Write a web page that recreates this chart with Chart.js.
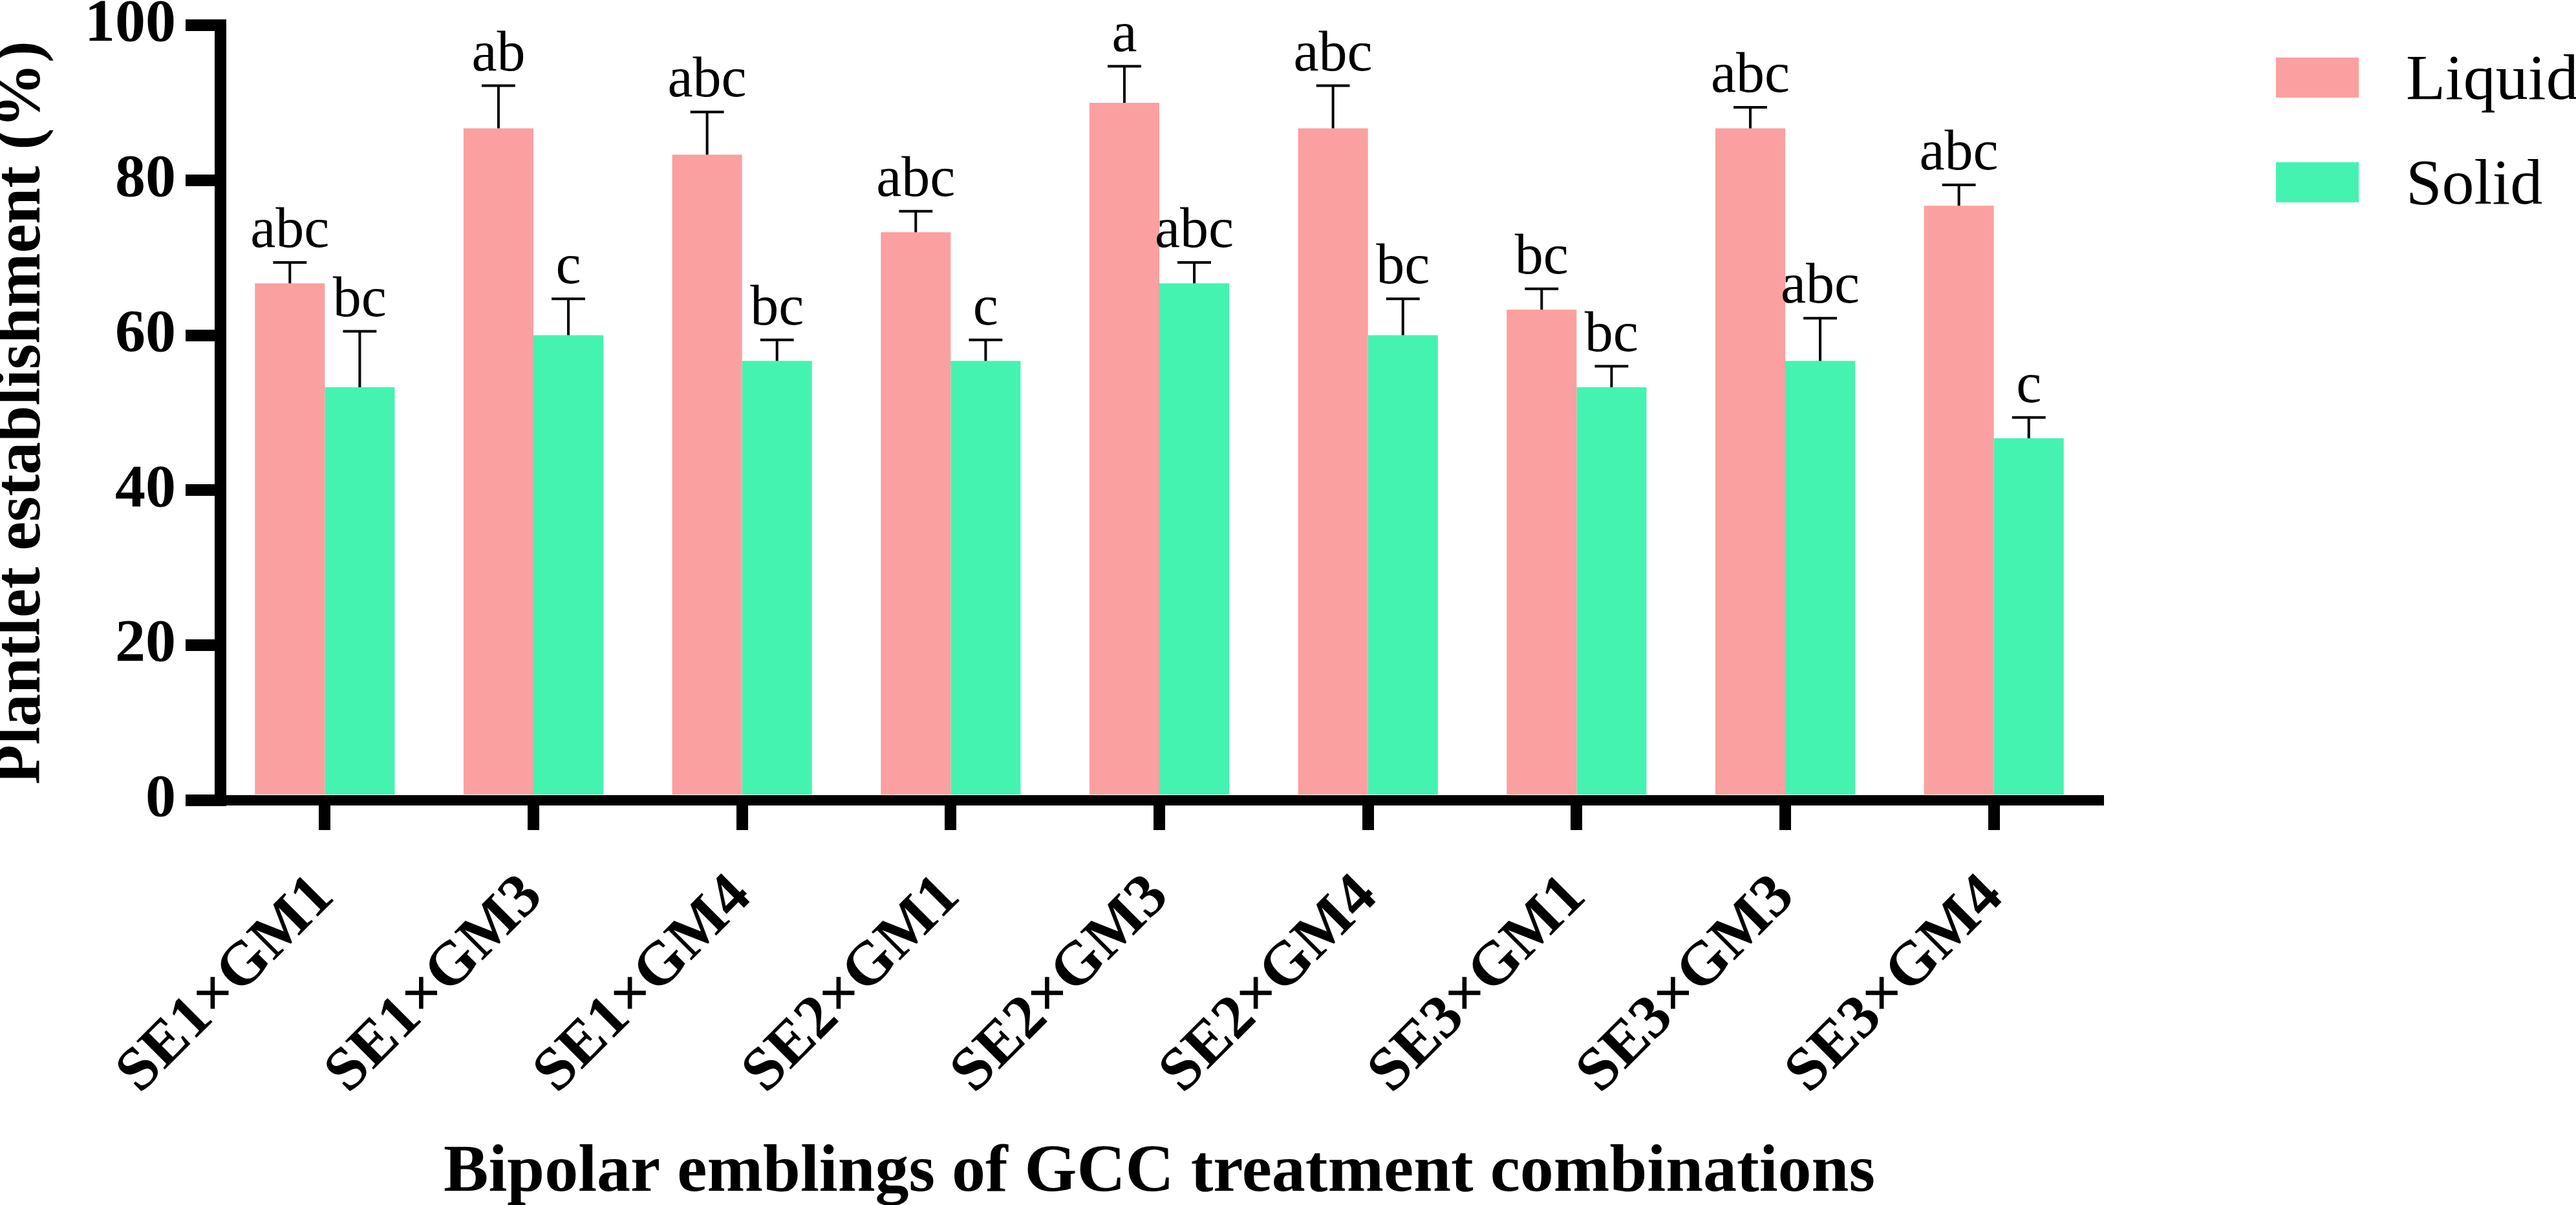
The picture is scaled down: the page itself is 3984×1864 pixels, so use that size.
<!DOCTYPE html>
<html>
<head>
<meta charset="utf-8">
<script src="https://cdn.jsdelivr.net/npm/chart.js@4.4.1/dist/chart.umd.min.js"></script>
<style>
  html, body { margin: 0; padding: 0; background: #ffffff; }
  #wrap { width: 3984px; height: 1864px; position: relative; }
  canvas { display: block; }
</style>
</head>
<body>
<div id="wrap"><canvas id="c" width="3984" height="1864" style="width:3984px;height:1864px"></canvas></div>
<script>
// ---- data ----
const categories = ['SE1×GM1', 'SE1×GM3', 'SE1×GM4', 'SE2×GM1', 'SE2×GM3', 'SE2×GM4', 'SE3×GM1', 'SE3×GM3', 'SE3×GM4'];
const liquidValues = [66.7, 86.7, 83.3, 73.3, 90.0, 86.7, 63.3, 86.7, 76.7];
const liquidErrors = [2.7, 5.5, 5.5, 2.7, 4.7, 5.5, 2.7, 2.7, 2.7];
const liquidLetters = ['abc', 'ab', 'abc', 'abc', 'a', 'abc', 'bc', 'abc', 'abc'];
const solidValues = [53.3, 60.0, 56.7, 56.7, 66.7, 60.0, 53.3, 56.7, 46.7];
const solidErrors = [7.2, 4.7, 2.7, 2.7, 2.7, 4.7, 2.7, 5.5, 2.7];
const solidLetters = ['bc', 'c', 'bc', 'c', 'abc', 'bc', 'bc', 'abc', 'c'];
const seriesNames = ['Liquid', 'Solid'];
const yTicks = [0, 20, 40, 60, 80, 100];
const yTitle = 'Plantlet establishment (%)';
const xTitle = 'Bipolar emblings of GCC treatment combinations';

const SERIF = "'Liberation Serif', 'Times New Roman', serif";
const COLORS = ['#FBA0A0', '#45F3B1'];

// error bars + significance letters
const errorBarPlugin = {
  id: 'errorBars',
  afterDatasetsDraw(chart) {
    const ctx = chart.ctx;
    const yScale = chart.scales.y;
    ctx.save();
    chart.data.datasets.forEach((ds, di) => {
      const meta = chart.getDatasetMeta(di);
      meta.data.forEach((bar, i) => {
        const v = ds.data[i];
        const e = ds.errors[i];
        const yTop = yScale.getPixelForValue(v + e);
        const capW = bar.width * 0.48;
        ctx.strokeStyle = '#000';
        ctx.lineWidth = 4;
        ctx.beginPath();
        ctx.moveTo(bar.x, bar.y);
        ctx.lineTo(bar.x, yTop);
        ctx.moveTo(bar.x - capW / 2, yTop);
        ctx.lineTo(bar.x + capW / 2, yTop);
        ctx.stroke();
        ctx.fillStyle = '#000';
        ctx.font = '88px ' + SERIF;
        ctx.textAlign = 'center';
        ctx.textBaseline = 'alphabetic';
        ctx.fillText(ds.letters[i], bar.x, yTop - 24);
      });
    });
    ctx.restore();
  }
};

// legend drawn from datasets
const legendPlugin = {
  id: 'customLegend',
  afterDraw(chart) {
    const ctx = chart.ctx;
    ctx.save();
    chart.data.datasets.forEach((ds, di) => {
      const top = 89 + di * 162;
      ctx.fillStyle = ds.backgroundColor;
      ctx.fillRect(3520, top, 128, 62);
      ctx.fillStyle = '#000';
      ctx.font = '100px ' + SERIF;
      ctx.textAlign = 'left';
      ctx.textBaseline = 'alphabetic';
      ctx.fillText(ds.label, 3721, top + 64);
    });
    ctx.restore();
  }
};

new Chart(document.getElementById('c'), {
  type: 'bar',
  data: {
    labels: categories,
    datasets: [
      { label: seriesNames[0], data: liquidValues, errors: liquidErrors, letters: liquidLetters,
        backgroundColor: COLORS[0], borderWidth: 0 },
      { label: seriesNames[1], data: solidValues, errors: solidErrors, letters: solidLetters,
        backgroundColor: COLORS[1], borderWidth: 0 }
    ]
  },
  options: {
    responsive: false,
    maintainAspectRatio: false,
    devicePixelRatio: 1,
    animation: false,
    events: [],
    layout: { padding: { left: 0, top: 39, right: 739, bottom: 0 } },
    datasets: { bar: { categoryPercentage: 0.67, barPercentage: 1.0 } },
    plugins: {
      legend: { display: false },
      tooltip: { enabled: false }
    },
    scales: {
      x: {
        offset: true,
        grid: { offset: false, drawOnChartArea: false, drawTicks: true, tickLength: 46, lineWidth: 18, color: '#000' },
        border: { display: true, width: 16, color: '#000' },
        ticks: {
          autoSkip: false, maxRotation: 45, minRotation: 45, padding: 48,
          color: '#000', font: { family: SERIF, size: 95, weight: 'bold' }
        },
        title: {
          display: true, text: xTitle, color: '#000',
          font: { family: SERIF, size: 104, weight: 'bold', lineHeight: 0.94 },
          padding: { top: 0, bottom: 0 }
        },
        afterFit(s) { s.height = 626; s.paddingLeft = 0; s.paddingRight = 0; }
      },
      y: {
        min: 0, max: 100,
        afterBuildTicks(s) { s.ticks = yTicks.map(v => ({ value: v })); },
        grid: { drawOnChartArea: false, drawTicks: true, tickLength: 54, lineWidth: 18, color: '#000' },
        border: { display: true, width: 18, color: '#000' },
        ticks: {
          padding: 15, color: '#000',
          font: { family: SERIF, size: 94, weight: 'bold' }
        },
        title: {
          display: true, text: yTitle, color: '#000',
          font: { family: SERIF, size: 101, weight: 'bold', lineHeight: 0.7 },
          padding: { top: 0, bottom: 0 }
        },
        afterFit(s) { s.width = 341; s.paddingTop = 0; s.paddingBottom = 0; }
      }
    }
  },
  plugins: [errorBarPlugin, legendPlugin]
});
</script>
</body>
</html>
